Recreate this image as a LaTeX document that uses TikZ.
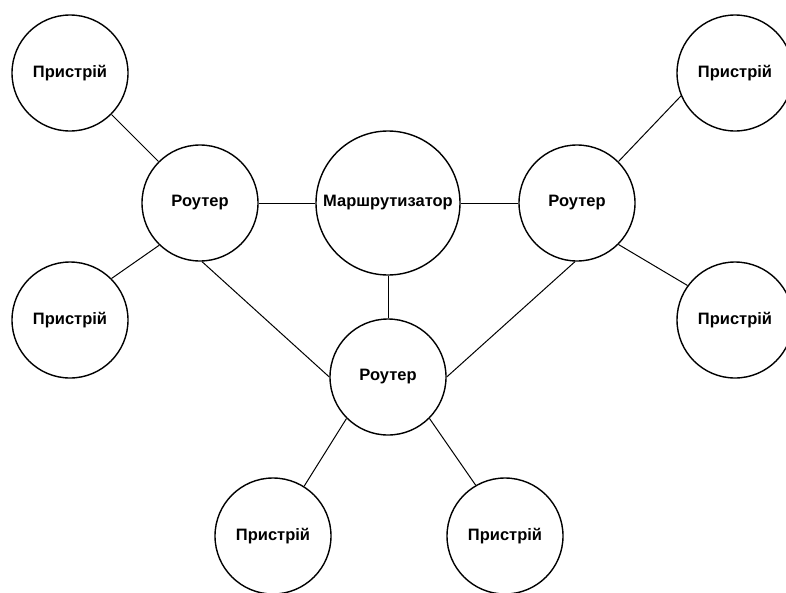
\documentclass[tikz,border=0pt]{standalone}
\usepackage{fontspec}
\setmainfont{Liberation Sans}
\begin{document}
\begin{tikzpicture}[x=1pt,y=-1pt,
  dev/.style={circle,draw,line width=1.4pt,minimum size=116pt,inner sep=0pt,font=\bfseries\fontsize{16.5}{19}\selectfont},
  big/.style={dev,minimum size=144pt},
  link/.style={line width=1pt}]
\useasboundingbox (0,0) rectangle (786,592);
\node[dev] (d1) at (70,73) {Пристрій};
\node[dev] (r1) at (200,203) {Роутер};
\node[big] (m) at (388,203) {Маршрутизатор};
\node[dev] (r2) at (577,203) {Роутер};
\node[dev] (d2) at (735,73) {Пристрій};
\node[dev] (d3) at (70,320) {Пристрій};
\node[dev] (d4) at (735,320) {Пристрій};
\node[dev] (r3) at (388,377) {Роутер};
\node[dev] (d5) at (273,536) {Пристрій};
\node[dev] (d6) at (505,536) {Пристрій};
\draw[link] (d1) -- (r1);
\draw[link] (r1.226) -- (d3.45);
\draw[link] (r1) -- (m);
\draw[link] (m) -- (r2);
\draw[link] (m) -- (r3);
\draw[link] (r1.-88) -- (r3.west);
\draw[link] (r2.-92) -- (r3.east);
\draw[link] (r2.45) -- (d2.203);
\draw[link] (r2.-45) -- (d4.144);
\draw[link] (r3.225) -- (d5.58);
\draw[link] (r3.-45) -- (d6.120);
\end{tikzpicture}
\end{document}
